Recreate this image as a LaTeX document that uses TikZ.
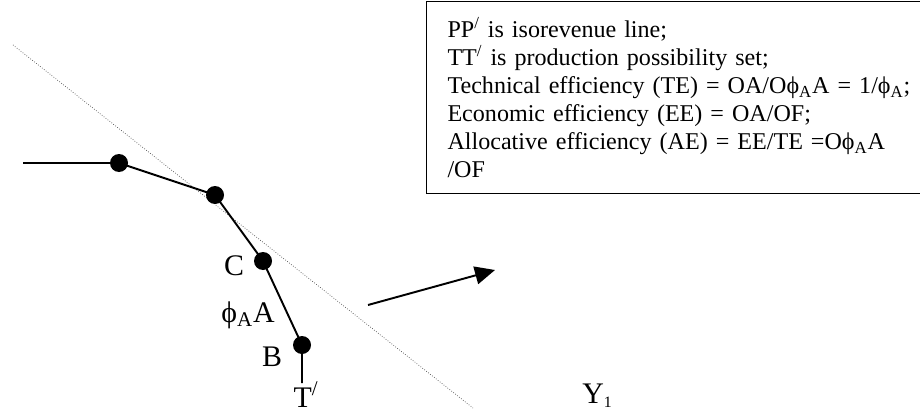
\documentclass[tikz,border=0pt]{standalone}
\usepackage{fontspec}
\setmainfont{Liberation Serif}
\usetikzlibrary{arrows.meta}

\begin{document}
\begin{tikzpicture}[
    x=1cm,
    y=1cm,
    frontier/.style={draw=black, line width=1.1pt},
    isorev/.style={draw=black!70, line width=0.4pt, densely dotted},
    dot/.style={circle, fill=black, inner sep=0pt, minimum size=0.36cm},
    lbl/.style={font=\fontsize{17}{20}\selectfont, inner sep=0pt, anchor=base},
    notebox/.style={draw=black, line width=0.6pt, anchor=north west,
        align=left, text width=9.4cm, inner xsep=0.42cm,
        minimum height=3.84cm, font=\fontsize{13.7}{16}\selectfont}
]
\path[use as bounding box] (0,0) rectangle (18.4,8.28);

% Isorevenue line PP'.
\coordinate (pTop) at (0.26,7.38);
\coordinate (pEnd) at (9.46,0.12);
\draw[isorev] (pTop) -- (pEnd);

% Production possibility frontier TT' with its corner points.
\coordinate (tTop) at (0.46,5.02);
\node[dot] (d1) at (2.38,5.02) {};
\node[dot] (d2) at (4.30,4.38) {};
\node[dot] (c) at (5.26,3.06) {};
\node[dot] (b) at (6.04,1.38) {};
\coordinate (tEnd) at (6.04,0.62);
\draw[frontier] (tTop) -- (d1.center) -- (d2.center) -- (c.center)
    -- (b.center) -- (tEnd);

\node[lbl] (cLbl) at (4.68,2.78) {C};
\node[lbl] (aLbl) at (4.96,1.84) {ϕ\textsubscript{A}A};
\node[lbl] (bLbl) at (5.44,0.96) {B};
\node[lbl] (tLbl) at (6.12,0.14) {T\textsuperscript{/}};
\node[lbl, anchor=base west] (yLbl) at (11.64,0.22)
    {Y\raisebox{-0.35ex}{\fontsize{9}{9}\selectfont 1}};

% Direction of expansion.
\coordinate (aFrom) at (7.36,2.18);
\coordinate (aTo) at (9.90,2.88);
\draw[frontier, -{Triangle[length=0.4cm, width=0.36cm]}] (aFrom) -- (aTo);

% Definitions box (runs off the right edge).
\node[notebox] (note) at (8.52,8.26) {%
    PP\textsuperscript{/} is isorevenue line;\\
    TT\textsuperscript{/} is production possibility set;\\
    Technical efficiency (TE) = OA/Oϕ\textsubscript{A}A = 1/ϕ\textsubscript{A};\\
    Economic efficiency (EE) = OA/OF;\\
    Allocative efficiency (AE) = EE/TE =Oϕ\textsubscript{A}A\\
    /OF};
\end{tikzpicture}
\end{document}
